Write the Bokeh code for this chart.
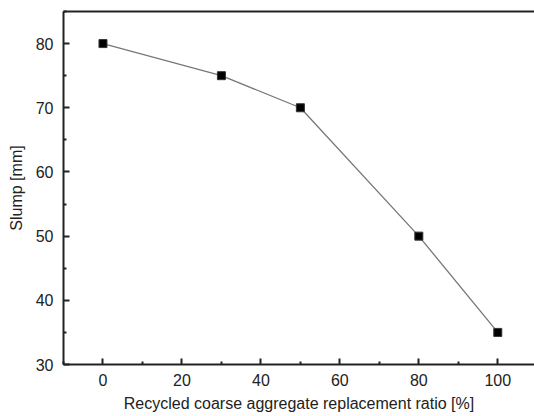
from bokeh.plotting import figure
from bokeh.models import Range1d, LinearAxis, FixedTicker
from bokeh.embed import file_html
from bokeh.resources import INLINE

ratio = [0, 30, 50, 80, 100]
slump = [80, 75, 70, 50, 35]
x_ticks = [0, 20, 40, 60, 80, 100]
y_ticks = [30, 40, 50, 60, 70, 80]

FONT = "Liberation Sans"

p = figure(width=534, height=416, output_backend="svg", toolbar_location=None,
           x_range=Range1d(-10, 109.3), y_range=Range1d(30, 85),
           min_border_left=63, min_border_right=0, min_border_top=11, min_border_bottom=52,
           x_axis_label="Recycled coarse aggregate replacement ratio [%]",
           y_axis_label="Slump [mm]")
p.outline_line_color = None
p.grid.grid_line_color = None
p.background_fill_color = "white"
p.border_fill_color = "white"

p.xaxis.ticker = FixedTicker(ticks=x_ticks, minor_ticks=[-10, 10, 30, 50, 70, 90, 110])
p.yaxis.ticker = FixedTicker(ticks=y_ticks, minor_ticks=[35, 45, 55, 65, 75, 85])

for ax in (p.xaxis[0], p.yaxis[0]):
    ax.axis_line_width = 2
    ax.axis_line_color = "#222222"
    ax.major_tick_in = 6
    ax.major_tick_out = 0
    ax.minor_tick_in = 3
    ax.minor_tick_out = 0
    ax.major_tick_line_width = 2
    ax.minor_tick_line_width = 2
    ax.major_tick_line_color = "#222222"
    ax.minor_tick_line_color = "#222222"
    ax.major_label_text_font = FONT
    ax.major_label_text_font_size = "16px"
    ax.major_label_text_color = "#222222"
    ax.axis_label_text_font = FONT
    ax.axis_label_text_font_size = "16px"
    ax.axis_label_text_font_style = "normal"
    ax.axis_label_text_color = "#222222"

p.xaxis.major_label_standoff = 9
p.xaxis.axis_label_standoff = 6
p.yaxis.major_label_standoff = 10
p.yaxis.axis_label_standoff = 8

top = LinearAxis(ticker=FixedTicker(ticks=[]), axis_line_width=2, axis_line_color="#222222",
                 major_tick_line_color=None, minor_tick_line_color=None,
                 major_label_text_font_size="0px", major_label_standoff=0)
p.add_layout(top, "above")

p.line(ratio, slump, line_color="#777777", line_width=1.3)
p.scatter(ratio, slump, marker="square", size=8, fill_color="black", line_color="#333333")

open("out.html", "w").write(file_html(p, INLINE))
